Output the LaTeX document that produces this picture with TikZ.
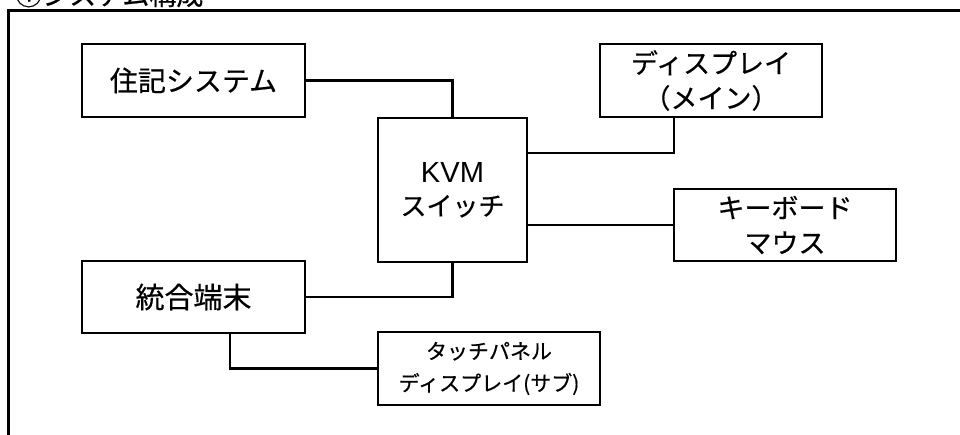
\documentclass[tikz,border=0pt]{standalone}
\usepackage{fontspec}
\setmainfont{Liberation Sans}
\newfontfamily\jp[FakeBold=0.5]{Noto Sans CJK JP}
\newfontfamily\lat{Liberation Sans}
\begin{document}
\begin{tikzpicture}[x=1pt,y=-1pt,
  box/.style={draw, line width=2.4pt, inner sep=0pt, align=center},
  wire/.style={line width=2.2pt},
  big/.style={font=\jp\fontsize{28}{34}\selectfont},
  mid/.style={font=\jp\fontsize{27}{35}\selectfont},
  small/.style={font=\jp\fontsize{21}{32}\selectfont}]
\useasboundingbox (0,0) rectangle (960,434);
\clip (0,0) rectangle (960,434);
\draw[line width=3pt] (8,445) -- (8,10.5) -- (970,10.5);
\node[anchor=base west, inner sep=0pt, font=\jp\fontsize{27}{27}\selectfont] (title) at (15,5) {①システム構成};
\node[box, big, minimum width=223pt, minimum height=73pt] (juki) at (193.5,80.5) {住記システム};
\node[box, minimum width=149pt, minimum height=144pt, font=\jp\fontsize{26}{33}\selectfont] (kvm) at (452.5,190) {\scalebox{1.12}{\lat KVM}\\スイッチ};
\node[box, mid, minimum width=222pt, minimum height=73pt] (disp) at (711,80.5) {ディスプレイ\\（メイン）};
\node[box, mid, minimum width=222pt, minimum height=72pt] (kb) at (785,225) {キーボード\\マウス};
\node[box, font=\jp\fontsize{29}{34}\selectfont, minimum width=223pt, minimum height=72pt] (togo) at (193.5,297) {統合端末};
\node[box, small, minimum width=222pt, minimum height=73pt] (touch) at (489,368.5) {タッチパネル\\ディスプレイ(サブ)};
\coordinate (kvmA) at (527,153);
\coordinate (dispA) at (674,117);
\coordinate (togoA) at (230,333);
\draw[wire] (juki.east) -| (kvm.north);
\draw[wire] (kvmA) -| (dispA);
\draw[wire] (kvm.east |- kb.west) -- (kb.west);
\draw[wire] (togo.east) -| (kvm.south);
\draw[wire] (togoA) |- (touch.west);
\end{tikzpicture}
\end{document}
